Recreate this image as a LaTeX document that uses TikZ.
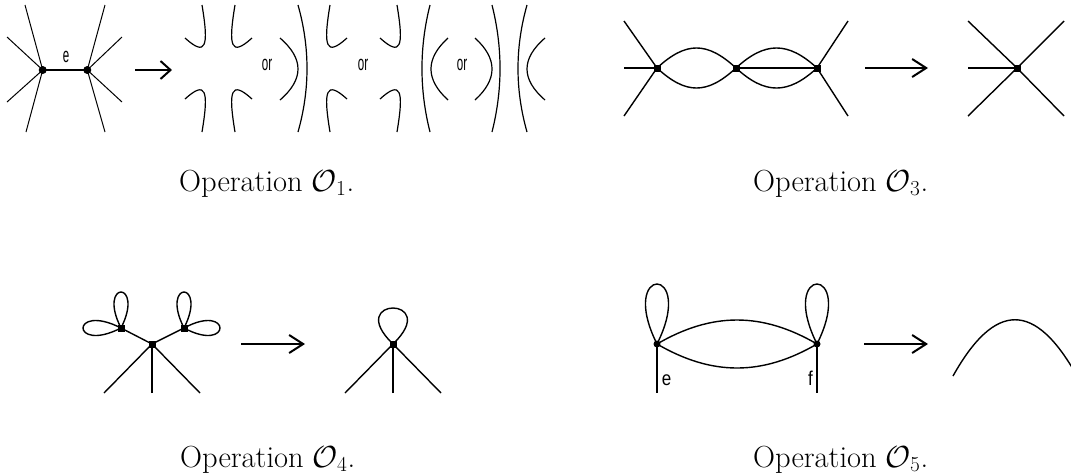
\RequirePackage{fix-cm}
\documentclass[tikz,border=0pt]{standalone}
\usepackage{fontspec}
\usepackage{graphicx}
\usetikzlibrary{arrows.meta}
\newfontfamily\labfont{Liberation Sans}
\begin{document}
\begin{tikzpicture}[x=1pt,y=-1pt,
  thinleg/.style={line width=1pt},
  leg/.style={line width=1.4pt},
  smootharc/.style={line width=1.2pt},
  thickedge/.style={line width=2pt},
  oparrow/.style={line width=2pt,-{Straight Barb[length=14pt,width=18pt]}},
  oparrowsmall/.style={line width=2pt,-{Straight Barb[length=10pt,width=18pt]}},
  dotv/.style={circle,fill=black,inner sep=0pt,minimum size=8pt},
  sqv/.style={rectangle,fill=black,inner sep=0pt,minimum size=7pt},
  caption/.style={anchor=base west,inner sep=0pt,font=\fontsize{30.5}{36}\selectfont},
  labone/.style={anchor=base,inner sep=0pt,font=\labfont\fontsize{21}{24}\selectfont},
  labfive/.style={anchor=base,inner sep=0pt,font=\labfont\fontsize{20}{24}\selectfont},
  hook/.pic={\draw[smootharc] (0,0) .. controls (7,42) and (4,52) .. (-17,33);},
]
\path[use as bounding box,clip] (0,0) rectangle (1071,475);

% ---------------- Operation O1 ----------------
\node[dotv] (A) at (42.7,70) {};
\node[dotv] (B) at (87.3,70) {};
\coordinate (a1) at (25,5);   \coordinate (a2) at (7,37);
\coordinate (a3) at (7,102);  \coordinate (a4) at (26,132);
\coordinate (b1) at (105,5);  \coordinate (b2) at (122,37);
\coordinate (b3) at (122,102);\coordinate (b4) at (105,132);
\draw[thinleg] (a1) -- (A.center) -- (a4);
\draw[thinleg] (a2) -- (A.center) -- (a3);
\draw[thinleg] (b1) -- (B.center) -- (b4);
\draw[thinleg] (b2) -- (B.center) -- (b3);
\draw[thickedge] (A.center) -- (B.center);
\node[labone] (le) at (66,62.5) {\scalebox{0.55}[1]{e}};

\coordinate (r1s) at (135,70); \coordinate (r1e) at (172,70);
\draw[oparrowsmall] (r1s) -- (r1e);

% group 1: four hooks
\pic at (202,5) {hook};
\pic[xscale=-1] at (235,5) {hook};
\pic[yscale=-1] at (202,132) {hook};
\pic[xscale=-1,yscale=-1] at (235,132) {hook};
\node[labone] (or1) at (267,70) {\scalebox{0.55}[1]{or}};

% group 2
\draw[smootharc] (280,38) .. controls (304,58.7) and (304,79.3) .. (280,100);
\draw[smootharc] (298,5) .. controls (310,47.3) and (310,89.7) .. (298,132);
\pic[xscale=-1] at (330,5) {hook};
\pic[xscale=-1,yscale=-1] at (330,132) {hook};
\node[labone] (or2) at (363,70) {\scalebox{0.55}[1]{or}};

% group 3
\pic at (397,5) {hook};
\pic[yscale=-1] at (397,132) {hook};
\draw[smootharc] (430,5) .. controls (419.3,47.3) and (419.3,89.7) .. (430,132);
\draw[smootharc] (448,38) .. controls (425.3,58.7) and (425.3,79.3) .. (448,100);
\node[labone] (or3) at (462,70) {\scalebox{0.55}[1]{or}};

% group 4
\draw[smootharc] (475,38) .. controls (497.7,58.7) and (497.7,79.3) .. (475,100);
\draw[smootharc] (492,5) .. controls (502.7,47.3) and (502.7,89.7) .. (492,132);
\draw[smootharc] (527,5) .. controls (515,47.3) and (515,89.7) .. (527,132);
\draw[smootharc] (545,38) .. controls (521,58.7) and (521,79.3) .. (545,100);

\node[caption] (c1) at (179,191) {Operation $\mathcal{O}_1$.};

% ---------------- Operation O3 ----------------
\node[sqv] (V1) at (657,68) {};
\node[sqv] (V2) at (736,68) {};
\node[sqv] (V3) at (817,68) {};
\coordinate (p1) at (624,21); \coordinate (p2) at (624,68); \coordinate (p3) at (624,116);
\coordinate (q1) at (848,21); \coordinate (q3) at (848,116);
\draw[leg] (p1) -- (V1.center) -- (p3);
\draw[leg] (p2) -- (V1.center);
\draw[leg] (q1) -- (V3.center) -- (q3);
\draw[leg] (V1.center) .. controls (686,41.3) and (707,41.3) .. (V2.center);
\draw[leg] (V1.center) .. controls (686,94.7) and (707,94.7) .. (V2.center);
\draw[leg] (V2.center) .. controls (765,41.3) and (788,41.3) .. (V3.center);
\draw[leg] (V2.center) .. controls (765,94.7) and (788,94.7) .. (V3.center);
\draw[leg] (V2.center) -- (V3.center);

\coordinate (r3s) at (865,68); \coordinate (r3e) at (928,68);
\draw[oparrow] (r3s) -- (r3e);

\node[sqv] (W) at (1017,68) {};
\coordinate (w1) at (968,21); \coordinate (w2) at (968,68); \coordinate (w3) at (968,116);
\coordinate (w4) at (1064,21); \coordinate (w5) at (1064,116);
\draw[leg] (w1) -- (W.center) -- (w5);
\draw[leg] (w3) -- (W.center) -- (w4);
\draw[leg] (w2) -- (W.center);

\node[caption] (c3) at (753,191) {Operation $\mathcal{O}_3$.};

% ---------------- Operation O4 ----------------
\node[sqv] (C) at (152,344) {};
\node[sqv] (L) at (121,328) {};
\node[sqv] (R) at (184,328) {};
\coordinate (cl) at (104,393); \coordinate (cm) at (152,393); \coordinate (cr) at (200,393);
\draw[leg] (cl) -- (C.center) -- (cr);
\draw[leg] (cm) -- (C.center);
\draw[leg] (L.center) -- (C.center) -- (R.center);
\draw[leg] (L.center) .. controls +(-24.3,-48) and +(24.3,-48) .. (L.center);
\draw[leg] (L.center) .. controls +(-50.7,-26) and +(-50.7,26) .. (L.center);
\draw[leg] (R.center) .. controls +(-24.3,-48) and +(24.3,-48) .. (R.center);
\draw[leg] (R.center) .. controls +(48,-26) and +(48,26) .. (R.center);

\coordinate (r4s) at (241,344); \coordinate (r4e) at (305,344);
\draw[oparrow] (r4s) -- (r4e);

\node[sqv] (D) at (393,344) {};
\coordinate (dl) at (345,393); \coordinate (dm) at (393,393); \coordinate (dr) at (441,393);
\draw[leg] (dl) -- (D.center) -- (dr);
\draw[leg] (dm) -- (D.center);
\draw[leg] (D.center) .. controls +(-50,-48) and +(50,-48) .. (D.center);

\node[caption] (c4) at (180,467) {Operation $\mathcal{O}_4$.};

% ---------------- Operation O5 ----------------
\node[dotv,minimum size=7pt] (P) at (657,344) {};
\node[dotv,minimum size=7pt] (Q) at (817,344) {};
\coordinate (pe) at (657,393); \coordinate (qe) at (817,393);
\draw[leg] (P.center) -- (pe);
\draw[leg] (Q.center) -- (qe);
\draw[leg] (P.center) .. controls +(-40,-80) and +(40,-80) .. (P.center);
\draw[leg] (Q.center) .. controls +(-40,-80) and +(40,-80) .. (Q.center);
\draw[leg] (P.center) .. controls (712,312) and (762,312) .. (Q.center);
\draw[leg] (P.center) .. controls (712,376) and (762,376) .. (Q.center);
\node[labfive] (le5) at (666.5,385) {\scalebox{0.85}[1]{e}};
\node[labfive] (lf5) at (810.5,385) {\scalebox{0.85}[1]{f}};

\coordinate (r5s) at (864,344); \coordinate (r5e) at (928,344);
\draw[oparrow] (r5s) -- (r5e);

\coordinate (h1) at (953,376); \coordinate (h2) at (1077,376);
\draw[leg] (h1) .. controls (995,301) and (1035,301) .. (h2);

\node[caption] (c5) at (753,467) {Operation $\mathcal{O}_5$.};
\end{tikzpicture}
\end{document}
